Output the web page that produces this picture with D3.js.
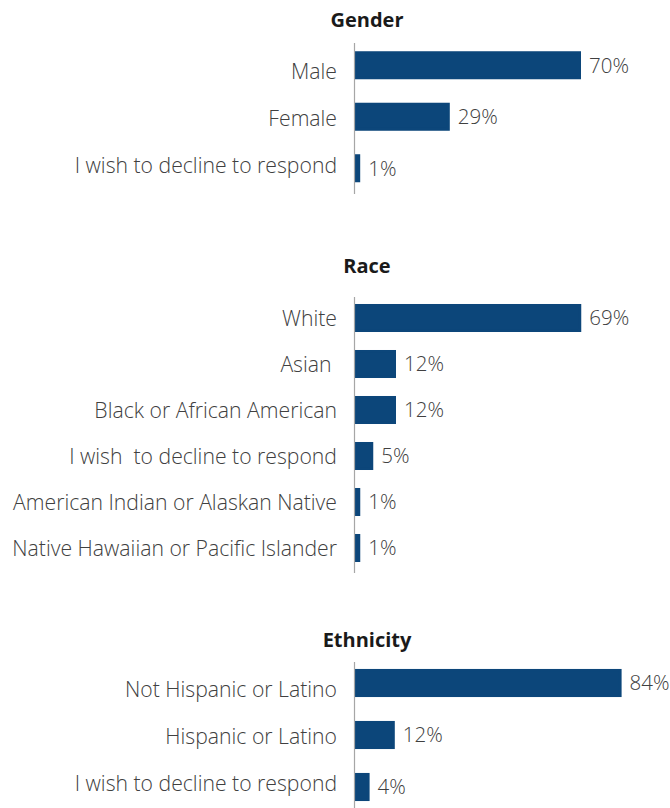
<!DOCTYPE html>
<html>
<head>
<meta charset="utf-8">
<script src="https://cdn.jsdelivr.net/npm/d3@7"></script>
<style>
  html, body { margin: 0; padding: 0; background: #ffffff; }
  svg { display: block; }
  .cat, .val { font-family: "Open Sans", sans-serif; font-weight: 300; fill: #404040; white-space: pre; }
  .title { font-family: "Open Sans", sans-serif; font-weight: 700; fill: #1a1a1a; }
</style>
</head>
<body>
<svg id="chart" width="670" height="808"></svg>
<script>
// Survey respondent demographics, percent of respondents
const genderCategories = ["Male", "Female", "I wish to decline to respond"];
const genderValues = [70, 29, 1];

const raceCategories = [
  "White",
  "Asian ",
  "Black or African American",
  "I wish  to decline to respond",
  "American Indian or Alaskan Native",
  "Native Hawaiian or Pacific Islander"
];
const raceValues = [69, 12, 12, 5, 1, 1];

const ethnicityCategories = ["Not Hispanic or Latino", "Hispanic or Latino", "I wish to decline to respond"];
const ethnicityValues = [84, 12, 4];

const panelTitles = ["Gender", "Race", "Ethnicity"];

const barColor = "#0c467a";
const axisColor = "#a6a6a6";
const barBorder = 3;          // bar outline, same colour as the fill
const axisX = 354;            // left edge of the bars
const labelGap = 17;          // space between category label and axis
const valueGap = 8;           // space between bar end and value label

const svg = d3.select("#chart");

// Each panel is its own small bar chart with its own value axis length.
// labelRange (optional) spreads the category labels on their own rows.
const panels = [
  { title: panelTitles[0], cats: genderCategories, vals: genderValues,
    titleY: 27, band: [39.5, 194], pad: 0.456, axis: [43, 194], width: 320,
    labelRange: [71, 165] },
  { title: panelTitles[1], cats: raceCategories, vals: raceValues,
    titleY: 273, band: [295, 571], pad: 0.391, axis: [297, 573], width: 325 },
  { title: panelTitles[2], cats: ethnicityCategories, vals: ethnicityValues,
    titleY: 647, band: [657, 813], pad: 0.46, axis: [662, 808], width: 315,
    labelRange: [689, 783] }
];

panels.forEach(p => {
  const g = svg.append("g");
  const x = d3.scaleLinear().domain([0, 100]).range([0, p.width]);
  const y = d3.scaleBand()
    .domain(p.cats)
    .range(p.band)
    .paddingInner(p.pad)
    .paddingOuter(p.pad / 2);
  const yLabel = p.labelRange
    ? d3.scalePoint().domain(p.cats).range(p.labelRange)
    : (c => y(c) + y.bandwidth() / 2);

  const rows = p.cats.map((c, i) => ({ cat: c, val: p.vals[i] }));

  g.append("text")
    .attr("class", "title")
    .attr("x", 367)
    .attr("y", p.titleY)
    .attr("text-anchor", "middle")
    .attr("font-size", 20)
    .text(p.title);

  g.selectAll("rect.bar")
    .data(rows)
    .join("rect")
    .attr("class", "bar")
    .attr("x", axisX + barBorder / 2)
    .attr("y", d => y(d.cat) + barBorder / 2)
    .attr("width", d => x(d.val))
    .attr("height", y.bandwidth() - barBorder)
    .attr("fill", barColor)
    .attr("stroke", barColor)
    .attr("stroke-width", barBorder);

  g.append("line")
    .attr("x1", axisX + 0.5).attr("x2", axisX + 0.5)
    .attr("y1", p.axis[0]).attr("y2", p.axis[1])
    .attr("stroke", axisColor)
    .attr("stroke-width", 1.2);

  g.selectAll("text.cat")
    .data(rows)
    .join("text")
    .attr("class", "cat")
    .attr("x", axisX - labelGap)
    .attr("y", d => yLabel(d.cat))
    .attr("dy", "0.36em")
    .attr("text-anchor", "end")
    .attr("font-size", 21.2)
    .text(d => d.cat);

  g.selectAll("text.val")
    .data(rows)
    .join("text")
    .attr("class", "val")
    .attr("x", d => axisX + x(d.val) + barBorder + valueGap)
    .attr("y", d => y(d.cat) + y.bandwidth() / 2)
    .attr("dy", "0.36em")
    .attr("font-size", 20.5)
    .text(d => d.val + "%");
});
</script>
</body>
</html>
